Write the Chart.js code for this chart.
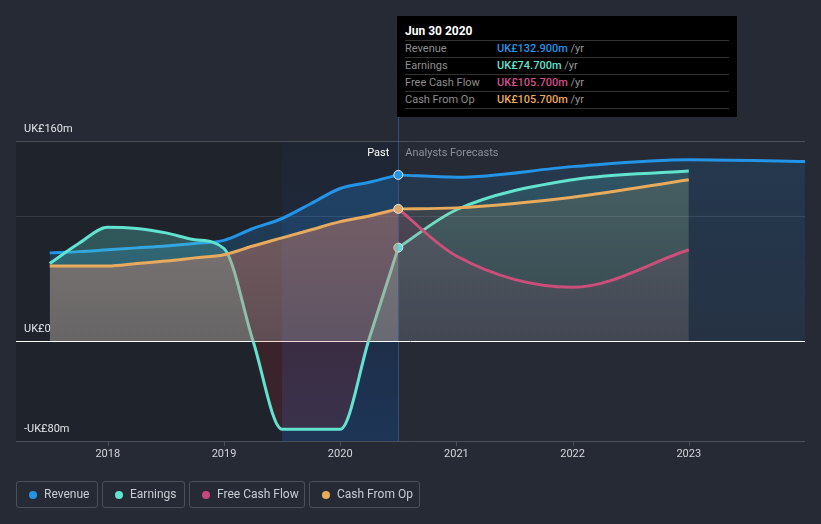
<!DOCTYPE html>
<html>
<head>
<meta charset="utf-8">
<script src="https://cdn.jsdelivr.net/npm/chart.js@4.4.1/dist/chart.umd.min.js"></script>
<style>
  body { margin: 0; background: #262a35; font-family: Roboto, "Noto Sans", sans-serif; }
  #wrap { position: relative; width: 821px; height: 524px; overflow: hidden; }
  #tip { position: absolute; left: 397px; top: 16px; width: 340px; height: 101px; background: #000; color: #8e8e8e; font-size: 11px; }
  #tip .title { position: absolute; left: 8px; top: 8px; color: #fff; font-weight: bold; font-size: 12px; }
  #tip .row { position: absolute; left: 8px; width: 324px; height: 17px; border-top: 1px solid #333; line-height: 16px; }
  #tip .row .v { position: absolute; left: 92px; top: 0; font-weight: 500; }
  #tip .row .u { color: #9a9a9a; font-weight: normal; }
  .leg { position: absolute; top: 481px; height: 25px; border: 1px solid #4a505b; border-radius: 3px; color: #c8ccd2; font-size: 12px; line-height: 25px; box-sizing: content-box; }
  .leg i { position: absolute; left: 12px; top: 9px; width: 8px; height: 8px; border-radius: 50%; }
  .leg span { position: absolute; left: 27px; top: 0; white-space: nowrap; }
</style>
</head>
<body>
<div id="wrap">
  <canvas id="chart" width="821" height="524"></canvas>
  <div id="tip">
    <div class="title">Jun 30 2020</div>
    <div class="row" style="top:24px">Revenue<span class="v"><span style="color:#2394e6">UK£132.900m</span> <span class="u">/yr</span></span></div>
    <div class="row" style="top:41px">Earnings<span class="v"><span style="color:#62e3cf">UK£74.700m</span> <span class="u">/yr</span></span></div>
    <div class="row" style="top:58px">Free Cash Flow<span class="v"><span style="color:#d0508b">UK£105.700m</span> <span class="u">/yr</span></span></div>
    <div class="row" style="top:75px">Cash From Op<span class="v"><span style="color:#e8aa5c">UK£105.700m</span> <span class="u">/yr</span></span></div>
    <div class="row" style="top:92px;height:0"></div>
  </div>
  <div class="leg" style="left:16px;width:80px"><i style="background:#2394e6"></i><span>Revenue</span></div>
  <div class="leg" style="left:102px;width:81px"><i style="background:#62e3cf"></i><span>Earnings</span></div>
  <div class="leg" style="left:189px;width:114px"><i style="background:#c8457e"></i><span>Free Cash Flow</span></div>
  <div class="leg" style="left:309px;width:109px"><i style="background:#e8aa5c"></i><span>Cash From Op</span></div>
</div>
<script>
// past figures, quarterly (decimal years), UK£m
const pastDates = [2017.5, 2017.75, 2018.0, 2018.25, 2018.5, 2018.75, 2019.0, 2019.25, 2019.5, 2019.75, 2020.0, 2020.25, 2020.5];
const revenuePast = [70.5, 71.5, 73, 74.5, 76, 78, 80.5, 90, 98, 110, 122, 127, 132.9];
const earningsPast = [62, 78, 91, 90, 86.5, 81, 74, 0, -70.6, -70.6, -70.6, 2, 74.7];
const fcfPast = [60, 60, 60, 62, 64, 66.5, 69, 76, 82.5, 89, 95.5, 100, 105.7];
const cfoPast = [60, 60, 60, 62, 64, 66.5, 69, 76, 82.5, 89, 95.5, 100, 105.7];

// analyst forecasts
const fcDates = [2020.5, 2021, 2022, 2023];
const revFcDates = [2020.5, 2021, 2022, 2023, 2024];
const revenueFc = [132.9, 131, 139.5, 145, 143.5];
const earningsFc = [74.7, 105, 129, 136];
const fcfFc = [105.7, 68, 43, 73];
const cfoFc = [105.7, 106.5, 115, 129];

const xTicks = [2018, 2019, 2020, 2021, 2022, 2023];
const yTicks = [160, 0, -80];
const yTickLabels = ['UK£160m', 'UK£0', '-UK£80m'];
const gridValues = [160, 100];

const nowX = 2020.5;
const bandStart = 2019.5;

const BLUE = '#2394e6', TEAL = '#62e3cf', PINK = '#c8457e', GOLD = '#e8aa5c';

const pts = (xs, ys) => xs.map((x, i) => ({ x: x, y: ys[i] }));

// vertical gradient from top of plot down to zero line
function grad(rgb, aTop, aBot) {
  return (c) => {
    const ch = c.chart;
    const ca = ch.chartArea;
    if (!ca) return `rgba(${rgb},${aTop})`;
    const y0 = ch.scales.y.getPixelForValue(0);
    const g = ch.ctx.createLinearGradient(0, ca.top, 0, y0);
    g.addColorStop(0, `rgba(${rgb},${aTop})`);
    g.addColorStop(1, `rgba(${rgb},${aBot})`);
    return g;
  };
}

const lastDot = (n) => (c) => c.dataIndex === n - 1 ? 4.5 : 0;

// lower order = drawn later (on top); each fill is drawn just before its line
const datasets = [
  { label: 'cfoPast', data: pts(pastDates, cfoPast), borderColor: GOLD, backgroundColor: grad('230,170,90', 0.3, 0.2), fill: 'origin', order: 1,
    pointRadius: lastDot(pastDates.length), pointBackgroundColor: '#d9a765', pointBorderColor: '#e8e8e8', pointBorderWidth: 1 },
  { label: 'fcfPast', data: pts(pastDates, fcfPast), borderColor: 'rgba(0,0,0,0)', backgroundColor: grad('200,70,130', 0.28, 0.18), fill: 'origin', order: 2 },
  { label: 'earnPast', data: pts(pastDates, earningsPast), borderColor: TEAL, backgroundColor: grad('88,212,200', 0.36, 0.22), fill: { target: 'origin', below: 'rgba(190,40,40,0.18)' }, order: 3,
    pointRadius: lastDot(pastDates.length), pointBackgroundColor: '#5fd8d8', pointBorderColor: '#e8e8e8', pointBorderWidth: 1 },
  { label: 'revPast', data: pts(pastDates, revenuePast), borderColor: BLUE, backgroundColor: grad('33,150,243', 0.26, 0.14), fill: 'origin', order: 4,
    pointRadius: lastDot(pastDates.length), pointBackgroundColor: BLUE, pointBorderColor: '#e8e8e8', pointBorderWidth: 1 },
  // forecasts
  { label: 'cfoFc', data: pts(fcDates, cfoFc), borderColor: GOLD, backgroundColor: grad('230,170,90', 0.14, 0.07), fill: 'origin', order: 5 },
  { label: 'fcfFc', data: pts(fcDates, fcfFc), borderColor: PINK, backgroundColor: grad('200,70,130', 0.14, 0.08), fill: 'origin', order: 6 },
  { label: 'earnFc', data: pts(fcDates, earningsFc), borderColor: TEAL, backgroundColor: grad('88,212,200', 0.2, 0.08), fill: 'origin', order: 7 },
  { label: 'revFc', data: pts(revFcDates, revenueFc), borderColor: BLUE, backgroundColor: grad('33,150,243', 0.14, 0.08), fill: 'origin', order: 8 }
];

const backdrop = {
  id: 'backdrop',
  beforeDraw(chart) {
    const { ctx, chartArea: ca, scales: { x } } = chart;
    const xNow = x.getPixelForValue(nowX);
    const xBand = x.getPixelForValue(bandStart);
    ctx.save();
    ctx.fillStyle = '#1f232c';
    ctx.fillRect(ca.left, ca.top, xNow - ca.left, ca.bottom - ca.top);
    const g = ctx.createLinearGradient(0, ca.top, 0, ca.bottom);
    g.addColorStop(0, 'rgba(25,90,200,0.04)');
    g.addColorStop(1, 'rgba(25,110,220,0.24)');
    ctx.fillStyle = g;
    ctx.fillRect(xBand, ca.top, xNow - xBand, ca.bottom - ca.top);
    ctx.restore();
  },
  beforeDatasetsDraw(chart) {
    const { ctx, chartArea: ca, scales: { x, y } } = chart;
    ctx.save();
    gridValues.forEach((v, i) => {
      ctx.strokeStyle = i === 0 ? '#4a4f5a' : 'rgba(120,130,145,0.25)';
      ctx.lineWidth = 1;
      const py = Math.round(y.getPixelForValue(v)) + 0.5;
      ctx.beginPath(); ctx.moveTo(ca.left, py); ctx.lineTo(ca.right, py); ctx.stroke();
    });
    // bottom axis + ticks
    ctx.strokeStyle = '#4a505a';
    let py = Math.round(ca.bottom) + 0.5;
    ctx.beginPath(); ctx.moveTo(ca.left, py); ctx.lineTo(ca.right, py); ctx.stroke();
    xTicks.forEach(t => {
      const px = Math.round(x.getPixelForValue(t)) + 0.5;
      ctx.beginPath(); ctx.moveTo(px, ca.bottom); ctx.lineTo(px, ca.bottom + 5); ctx.stroke();
    });
    // cursor line
    const xn = Math.round(x.getPixelForValue(nowX)) + 0.5;
    ctx.strokeStyle = 'rgba(60,110,180,0.55)';
    ctx.beginPath(); ctx.moveTo(xn, 116); ctx.lineTo(xn, ca.bottom); ctx.stroke();
    // zero line
    ctx.strokeStyle = '#ffffff';
    py = Math.round(y.getPixelForValue(0)) + 0.5;
    ctx.beginPath(); ctx.moveTo(ca.left, py); ctx.lineTo(ca.right, py); ctx.stroke();
    ctx.restore();
  },
  afterDraw(chart) {
    const { ctx, chartArea: ca, scales: { x, y } } = chart;
    ctx.save();
    ctx.font = '11px Roboto';
    ctx.textBaseline = 'middle';
    ctx.fillStyle = '#e2e4e8';
    ctx.textAlign = 'left';
    yTicks.forEach((v, i) => ctx.fillText(yTickLabels[i], ca.left + 8, y.getPixelForValue(v) - 12));
    ctx.textAlign = 'center';
    ctx.fillStyle = '#d4d6da';
    xTicks.forEach(t => ctx.fillText(String(t), x.getPixelForValue(t), ca.bottom + 13));
    const xn = x.getPixelForValue(nowX);
    ctx.textAlign = 'right';
    ctx.fillStyle = '#ffffff';
    ctx.fillText('Past', xn - 9, ca.top + 12);
    ctx.textAlign = 'left';
    ctx.fillStyle = '#8a8f99';
    ctx.fillText('Analysts Forecasts', xn + 7, ca.top + 12);
    ctx.restore();
  }
};

new Chart(document.getElementById('chart'), {
  type: 'line',
  data: { datasets: datasets },
  options: {
    responsive: false,
    animation: false,
    layout: { padding: { left: 16, right: 16, top: 141, bottom: 83 } },
    scales: {
      x: { type: 'linear', min: 2017.21, max: 2024, display: false },
      y: { min: -80, max: 160, display: false }
    },
    elements: {
      line: { borderWidth: 3, cubicInterpolationMode: 'monotone' },
      point: { radius: 0, hoverRadius: 0 }
    },
    plugins: {
      legend: { display: false },
      tooltip: { enabled: false },
      filler: { drawTime: 'beforeDatasetDraw' }
    },
    events: []
  },
  plugins: [backdrop]
});
</script>
</body>
</html>
